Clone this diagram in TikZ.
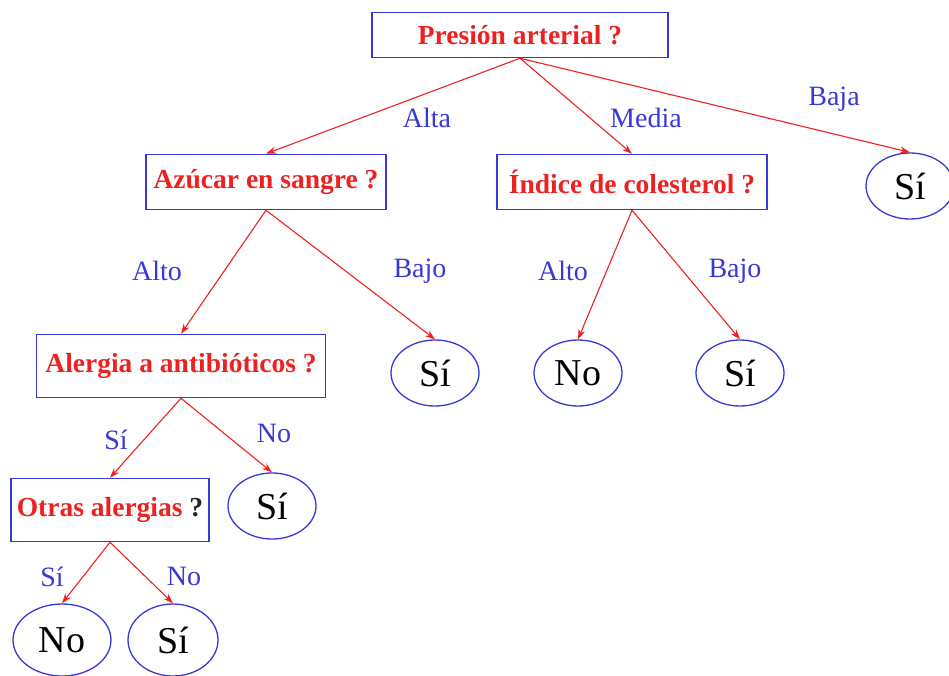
\documentclass[tikz,border=0pt]{standalone}
\usepackage{fontspec}
\setmainfont{Liberation Serif}
\usepackage{xcolor}
\usetikzlibrary{shapes.geometric, arrows, arrows.meta, positioning}
\definecolor{myred}{rgb}{0.93, 0.13, 0.13}
\definecolor{myblue}{rgb}{0.22, 0.22, 0.85}
\tikzstyle{question} = [rectangle, draw=myblue, line width=1.5pt, text=myred, font=\fontsize{27.5}{32}\selectfont\bfseries, inner sep=0pt]
\tikzstyle{leaf} = [ellipse, draw=myblue, line width=1.3pt, minimum width=88pt, minimum height=66pt, inner sep=0pt, font=\fontsize{38}{44}\selectfont]
\tikzstyle{arrow} = [myred, line width=1.1pt, ->, >={Stealth[length=10pt, width=7pt]}]
\tikzstyle{branch} = [text=myblue, inner sep=0pt, font=\fontsize{28}{32}\selectfont]

\begin{document}
\begin{tikzpicture}[x=1pt, y=1pt]
    \useasboundingbox (0,0) rectangle (949,-676);
    % questions
    \node[question, minimum width=296pt, minimum height=45pt] (presion)  at (520,-35)  {Presión arterial ?};
    \node[question, minimum width=240pt, minimum height=55pt] (azucar)   at (266,-182) {Azúcar en sangre ?};
    \node[question, minimum width=270pt, minimum height=55pt] (indice)   at (632,-182) {Índice de colesterol ?};
    \node[question, minimum width=289pt, minimum height=63pt] (alergia)  at (181,-366) {Alergia a antibióticos ?};
    \node[question, minimum width=198pt, minimum height=63pt] (otras)    at (110,-510) {Otras alergias \textcolor{black!85}{?}};
    % answers
    \node[leaf] (siBaja)    at (910,-186) {Sí};
    \node[leaf] (siAzucar)  at (435,-373) {Sí};
    \node[leaf] (noIndice)  at (578,-373) {No};
    \node[leaf] (siIndice)  at (740,-373) {Sí};
    \node[leaf] (siAlergia) at (272,-506) {Sí};
    \node[leaf, minimum width=98pt, minimum height=72pt] (noOtras) at (62,-640)  {No};
    \node[leaf, minimum width=90pt, minimum height=72pt] (siOtras) at (173,-640) {Sí};
    % branches
    \draw[arrow] (presion.south) -- (azucar.north);
    \draw[arrow] (presion.south) -- (indice.north);
    \draw[arrow] (presion.south) -- (siBaja.north);
    \draw[arrow] (azucar.south) -- (alergia.north);
    \draw[arrow] (azucar.south) -- (siAzucar.north);
    \draw[arrow] (indice.south) -- (noIndice.north);
    \draw[arrow] (indice.south) -- (siIndice.north);
    \draw[arrow] (alergia.south) -- (otras.north);
    \draw[arrow] (alergia.south) -- (siAlergia.north);
    \draw[arrow] (otras.south) -- (noOtras.north);
    \draw[arrow] (otras.south) -- (siOtras.north);
    % labels
    \node[branch] (lAlta)   at (427,-118) {Alta};
    \node[branch] (lMedia)  at (646,-118) {Media};
    \node[branch] (lBaja)   at (834,-99)  {Baja};
    \node[branch] (lAlto1)  at (157,-271) {Alto};
    \node[branch] (lBajo1)  at (420,-271) {Bajo};
    \node[branch] (lAlto2)  at (563,-271) {Alto};
    \node[branch] (lBajo2)  at (735,-271) {Bajo};
    \node[branch] (lSi1)    at (116,-440) {Sí};
    \node[branch] (lNo1)    at (274,-433) {No};
    \node[branch] (lSi2)    at (52,-577)  {Sí};
    \node[branch] (lNo2)    at (184,-576) {No};
\end{tikzpicture}
\end{document}
